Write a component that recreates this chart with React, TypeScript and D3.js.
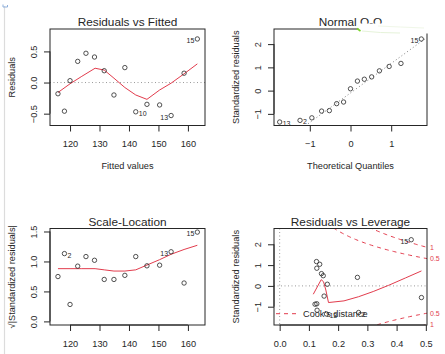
import { useRef, useEffect } from "react";
import * as d3 from "d3";

// observations, in the order of their fitted values
const obsIds = ["1", "2", "3", "4", "5", "6", "7", "8", "9", "10", "11", "12", "13", "14", "15"];
const fittedValues = [115.9, 118.1, 120.0, 122.6, 125.4, 128.3, 131.6, 134.9, 138.6, 142.3, 146.1, 150.4, 154.3, 158.7, 163.2];
const residuals = [-0.18, -0.46, 0.03, 0.34, 0.47, 0.41, 0.19, -0.2, 0.24, -0.47, -0.35, -0.36, -0.53, 0.15, 0.7];
const stdResiduals = [-0.56, -1.28, 0.08, 0.85, 1.17, 1.04, 0.49, -0.49, 0.59, -1.17, -0.86, -0.88, -1.35, 0.41, 2.22];
const leverage = [0.485, 0.27, 0.163, 0.127, 0.126, 0.137, 0.149, 0.152, 0.143, 0.128, 0.127, 0.121, 0.16, 0.266, 0.45];
const theoQuantiles = [-1.74, -1.24, -0.95, -0.71, -0.52, -0.34, -0.17, 0, 0.17, 0.34, 0.52, 0.71, 0.95, 1.24, 1.74];

// red smoothers
const smoothFittedX = [115.9, 120, 124, 128.5, 131.6, 134.9, 138.6, 142.3, 146.1, 150.4, 154.3, 158.7, 163.2];
const smoothResidY = [-0.16, -0.02, 0.1, 0.23, 0.2, 0.07, -0.08, -0.2, -0.27, -0.12, -0.01, 0.14, 0.3];
const smoothScaleY = [0.88, 0.88, 0.88, 0.88, 0.86, 0.84, 0.84, 0.86, 0.94, 1.03, 1.12, 1.2, 1.27];
const smoothLevX = [0.115, 0.142, 0.15, 0.158, 0.167, 0.22, 0.27, 0.32, 0.373, 0.43, 0.485];
const smoothLevY = [-0.4, 0.3, 0.2, -0.2, -0.8, -0.72, -0.52, -0.27, 0.03, 0.38, 0.72];

// qq reference line: intercept, slope
const qqLine = [-0.1, 1.27];
const cookLevels = [0.5, 1];
const cookP = 3.5;

// ticks
const fittedTicks = [120, 130, 140, 150, 160];
const residTicks = [-0.5, 0, 0.5];
const qqXTicks = [-1, 0, 1];
const stdTicks = [-1, 0, 1, 2];
const sqrtTicks = [0, 0.5, 1, 1.5];
const levTicks = [0, 0.1, 0.2, 0.3, 0.4, 0.5];

// labelled points and the side of the label
const residLabels = ["10", "13", "15"];
const residSides = ["r", "l", "l"];
const qqLabels = ["13", "2", "15"];
const qqSides = ["r", "r", "l"];
const scaleLabels = ["2", "13", "15"];
const scaleSides = ["r", "l", "l"];
const levLabels = ["15", "13", "2"];
const levSides = ["l", "r", "r"];

const RED = "#e23c4d";
const INK = "#262626";
const FONT = "'Liberation Sans', Arial, sans-serif";

function App() {
  const svgRef = useRef<SVGSVGElement>(null);

  useEffect(() => {
    const svg = d3.select(svgRef.current);
    svg.selectAll("*").remove();

    svg.append("rect").attr("width", 445).attr("height", 354).attr("fill", "#fff");

    let clipN = 0;
    const panel = (
      box: { l: number; r: number; t: number; b: number },
      xDomain: number[],
      yDomain: number[],
      xTicks: number[],
      yTicks: number[],
      xFmt: (d: number) => string,
      yFmt: (d: number) => string,
      title: string,
      xLab: string,
      yLab: string
    ) => {
      const x = d3.scaleLinear().domain(xDomain).range([box.l, box.r]);
      const y = d3.scaleLinear().domain(yDomain).range([box.b, box.t]);
      const g = svg.append("g");
      const id = "clip" + clipN++;
      g.append("clipPath").attr("id", id).append("rect")
        .attr("x", box.l).attr("y", box.t)
        .attr("width", box.r - box.l).attr("height", box.b - box.t);
      const plot = g.append("g").attr("clip-path", `url(#${id})`);

      // x axis
      const xa = g.append("g")
        .attr("transform", `translate(0,${box.b})`)
        .call(d3.axisBottom(x).tickValues(xTicks).tickSize(6).tickFormat((d) => xFmt(+d)));
      xa.attr("font-family", FONT).attr("font-size", 9.2).style("color", INK);
      xa.select(".domain").attr("d", `M${x(xTicks[0])},0H${x(xTicks[xTicks.length - 1])}`);
      xa.selectAll("text").attr("y", 21.5).attr("dy", null).attr("fill", INK);

      // y axis, labels parallel to the axis
      const ya = g.append("g")
        .attr("transform", `translate(${box.l},0)`)
        .call(d3.axisLeft(y).tickValues(yTicks).tickSize(6).tickFormat((d) => yFmt(+d)));
      ya.attr("font-family", FONT).attr("font-size", 9.2).style("color", INK);
      ya.select(".domain").attr("d", `M0,${y(yTicks[0])}V${y(yTicks[yTicks.length - 1])}`);
      ya.selectAll<SVGTextElement, number>("text")
        .attr("x", null).attr("dy", null)
        .attr("text-anchor", "middle")
        .attr("transform", "rotate(-90)")
        .attr("y", -13.5)
        .attr("fill", INK);

      // box
      g.append("rect")
        .attr("x", box.l).attr("y", box.t)
        .attr("width", box.r - box.l).attr("height", box.b - box.t)
        .attr("fill", "none").attr("stroke", INK).attr("stroke-width", 1);

      g.append("text")
        .attr("x", (box.l + box.r) / 2).attr("y", box.t - 3)
        .attr("text-anchor", "middle").attr("font-size", 11.8).attr("font-family", FONT)
        .attr("fill", INK).text(title);
      if (xLab) {
        g.append("text")
          .attr("x", (box.l + box.r) / 2).attr("y", box.b + 43.5)
          .attr("text-anchor", "middle").attr("font-size", 9.2).attr("font-family", FONT)
          .attr("fill", INK).text(xLab);
      }
      g.append("text")
        .attr("transform", `translate(${box.l - 35},${(box.t + box.b) / 2}) rotate(-90)`)
        .attr("text-anchor", "middle").attr("font-size", 9.2).attr("font-family", FONT)
        .attr("fill", INK).text(yLab);

      return { x, y, g, plot };
    };

    const dotted = (sel: any) =>
      sel.attr("stroke", "#9a9a9a").attr("stroke-width", 1).attr("stroke-dasharray", "1,2.5").attr("fill", "none");

    const points = (p: any, xs: number[], ys: number[]) => {
      p.g.append("g").selectAll("circle")
        .data(xs.map((d, i) => [d, ys[i]]))
        .enter()
        .append("circle")
        .attr("cx", (d: number[]) => p.x(d[0]))
        .attr("cy", (d: number[]) => p.y(d[1]))
        .attr("r", 2.2)
        .attr("fill", "none")
        .attr("stroke", INK)
        .attr("stroke-width", 0.8);
    };

    const labels = (p: any, xs: number[], ys: number[], ids: string[], ids2: string[], sides: string[]) => {
      ids2.forEach((lab, k) => {
        const i = ids.indexOf(lab);
        const right = sides[k] === "r";
        p.g.append("text")
          .attr("x", p.x(xs[i]) + (right ? 3 : -3))
          .attr("y", p.y(ys[i]) + 4)
          .attr("text-anchor", right ? "start" : "end")
          .attr("font-size", 7).attr("font-family", FONT).attr("fill", INK)
          .text(lab);
      });
    };

    const smooth = (p: any, xs: number[], ys: number[]) => {
      const line = d3.line<number>().x((d, i) => p.x(xs[i])).y((d) => p.y(d));
      p.plot.append("path").attr("d", line(ys)).attr("fill", "none")
        .attr("stroke", RED).attr("stroke-width", 1);
    };

    const f1 = (d: number) => d3.format(".1f")(d);
    const f0 = (d: number) => d3.format("d")(d);

    // Residuals vs Fitted
    const p1 = panel({ l: 50, r: 205, t: 29, b: 125.5 }, [113.2, 165.8], [-0.69, 0.86],
      fittedTicks, residTicks, f0, f1, "Residuals vs Fitted", "Fitted values", "Residuals");
    p1.plot.append("line").attr("x1", 50).attr("x2", 205).attr("y1", p1.y(0)).attr("y2", p1.y(0)).call(dotted);
    points(p1, fittedValues, residuals);
    smooth(p1, smoothFittedX, smoothResidY);
    labels(p1, fittedValues, residuals, obsIds, residLabels, residSides);

    // Normal Q-Q
    const order = d3.range(stdResiduals.length).sort((a, b) => stdResiduals[a] - stdResiduals[b]);
    const qqY = order.map((i) => stdResiduals[i]);
    const qqIds = order.map((i) => obsIds[i]);
    const p2 = panel({ l: 274, r: 427, t: 29, b: 125.5 }, [-1.88, 1.88], [-1.5, 2.65],
      qqXTicks, stdTicks, f0, f0, "Normal Q-Q", "Theoretical Quantiles", "Standardized residuals");
    p2.plot.append("line")
      .attr("x1", p2.x(-1.88)).attr("y1", p2.y(qqLine[0] + qqLine[1] * -1.88))
      .attr("x2", p2.x(1.88)).attr("y2", p2.y(qqLine[0] + qqLine[1] * 1.88))
      .call(dotted).attr("stroke", "#7f7f7f");
    points(p2, theoQuantiles, qqY);
    labels(p2, theoQuantiles, qqY, qqIds, qqLabels, qqSides);

    // annotation scribble over the Q-Q title
    svg.append("rect").attr("x", 358.5).attr("y", 23.5).attr("width", 72).attr("height", 10).attr("fill", "#fff");
    svg.append("path").attr("d", "M362,31 Q380,33 400,33").attr("stroke", "#e6f3da").attr("stroke-width", 1).attr("fill", "none");
    svg.append("path").attr("d", "M378,26 Q400,27 424,28").attr("stroke", "#f0f7e8").attr("stroke-width", 1).attr("fill", "none");
    svg.append("path").attr("d", "M357,28.5 L360.5,31").attr("stroke", "#7ad42a").attr("stroke-width", 1.6).attr("fill", "none");

    // Scale-Location
    const sqrtAbs = stdResiduals.map((d) => Math.sqrt(Math.abs(d)));
    const p3 = panel({ l: 50, r: 205, t: 228.5, b: 325 }, [113.2, 165.8], [-0.06, 1.55],
      fittedTicks, sqrtTicks, f0, f1, "Scale-Location", "", "\u221A|Standardized residuals|");
    points(p3, fittedValues, sqrtAbs);
    smooth(p3, smoothFittedX, smoothScaleY);
    labels(p3, fittedValues, sqrtAbs, obsIds, scaleLabels, scaleSides);

    // Residuals vs Leverage
    const p4 = panel({ l: 274, r: 427, t: 228.5, b: 325 }, [-0.0194, 0.504], [-1.88, 2.76],
      levTicks, stdTicks, f1, f0, "Residuals vs Leverage", "", "Standardized residuals");
    p4.plot.append("line").attr("x1", 274).attr("x2", 427).attr("y1", p4.y(0)).attr("y2", p4.y(0)).call(dotted);
    p4.plot.append("line").attr("y1", 228.5).attr("y2", 325).attr("x1", p4.x(0)).attr("x2", p4.x(0)).call(dotted);
    const hh = d3.range(101).map((i) => 0.005 + (0.504 - 0.005) * i / 100);
    cookLevels.forEach((lev) => {
      [1, -1].forEach((s) => {
        const line = d3.line<number>().x((h) => p4.x(h)).y((h) => p4.y(s * Math.sqrt(lev * cookP * (1 - h) / h)));
        p4.plot.append("path").attr("d", line(hh)).attr("fill", "none")
          .attr("stroke", RED).attr("stroke-width", 1).attr("stroke-dasharray", "4,4");
        p4.g.append("text")
          .attr("x", 430).attr("y", p4.y(s * Math.sqrt(lev * cookP * (1 - 0.504) / 0.504)) + 2.5)
          .attr("font-size", 7).attr("font-family", FONT).attr("fill", RED)
          .text(String(lev));
      });
    });
    points(p4, leverage, stdResiduals);
    smooth(p4, smoothLevX, smoothLevY);
    labels(p4, leverage, stdResiduals, obsIds, levLabels, levSides);
    // legend
    p4.g.append("line").attr("x1", 276).attr("x2", 300).attr("y1", 313.7).attr("y2", 313.7)
      .attr("stroke", RED).attr("stroke-width", 1).attr("stroke-dasharray", "4,4");
    p4.g.append("text").attr("x", 303).attr("y", 317).attr("font-size", 9.2).attr("font-family", FONT)
      .attr("fill", INK).text("Cook's distance");

    // window edge decorations
    svg.append("line").attr("x1", 4.5).attr("x2", 4.5).attr("y1", 6).attr("y2", 354)
      .attr("stroke", "#dcdcdc").attr("stroke-width", 1.2);
    svg.append("path").attr("d", "M3,4.5V7H7.5V5").attr("stroke", "#8fb0dc").attr("stroke-width", 1).attr("fill", "none");
  }, []);

  return (
    <svg
      ref={svgRef}
      width={445}
      height={354}
      style={{ position: "absolute", left: 0, top: 0, fontFamily: FONT }}
    ></svg>
  );
}

export default App;
